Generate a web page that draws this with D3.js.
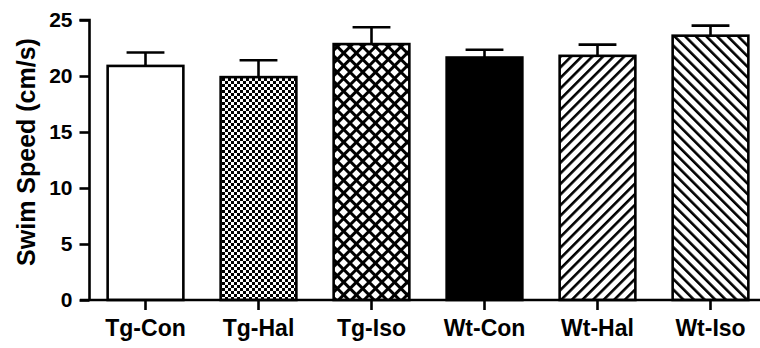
<!DOCTYPE html>
<html>
<head>
<meta charset="utf-8">
<script src="https://cdn.jsdelivr.net/npm/d3@7"></script>
<style>
  body { margin: 0; background: #fff; }
  svg text { font-family: "Liberation Sans", Arial, sans-serif; font-weight: bold; fill: #000; }
</style>
</head>
<body>
<div id="chart"></div>
<script>
// data
var groups = ["Tg-Con", "Tg-Hal", "Tg-Iso", "Wt-Con", "Wt-Hal", "Wt-Iso"];
var means = [20.9, 19.9, 22.85, 21.65, 21.8, 23.6];
var errs = [1.2, 1.5, 1.5, 0.7, 1.0, 0.9];
var fills = ["white", "url(#checker)", "url(#cross)", "black", "url(#fwd)", "url(#back)"];
var yTicks = [0, 5, 10, 15, 20, 25];

var width = 760, height = 348;

var svg = d3.select("#chart").append("svg")
    .attr("width", width)
    .attr("height", height);

var defs = svg.append("defs");

// checkerboard
var chk = defs.append("pattern")
    .attr("id", "checker")
    .attr("patternUnits", "userSpaceOnUse")
    .attr("width", 6).attr("height", 6);
chk.append("rect").attr("width", 6).attr("height", 6).attr("fill", "white");
chk.append("rect").attr("width", 3).attr("height", 3).attr("fill", "black");
chk.append("rect").attr("x", 3).attr("y", 3).attr("width", 3).attr("height", 3).attr("fill", "black");

// diagonal crosshatch
var cr = defs.append("pattern")
    .attr("id", "cross")
    .attr("patternUnits", "userSpaceOnUse")
    .attr("width", 9).attr("height", 9)
    .attr("patternTransform", "rotate(45)");
cr.append("rect").attr("width", 9).attr("height", 9).attr("fill", "white");
cr.append("rect").attr("width", 9).attr("height", 3).attr("fill", "black");
cr.append("rect").attr("width", 3).attr("height", 9).attr("fill", "black");

// forward diagonal lines (/)
var fw = defs.append("pattern")
    .attr("id", "fwd")
    .attr("patternUnits", "userSpaceOnUse")
    .attr("width", 7.5).attr("height", 7.5)
    .attr("patternTransform", "rotate(45)");
fw.append("rect").attr("width", 7.5).attr("height", 7.5).attr("fill", "white");
fw.append("rect").attr("width", 2.6).attr("height", 7.5).attr("fill", "black");

// back diagonal lines (\)
var bk = defs.append("pattern")
    .attr("id", "back")
    .attr("patternUnits", "userSpaceOnUse")
    .attr("width", 7.5).attr("height", 7.5)
    .attr("patternTransform", "rotate(-45)");
bk.append("rect").attr("width", 7.5).attr("height", 7.5).attr("fill", "white");
bk.append("rect").attr("width", 2.6).attr("height", 7.5).attr("fill", "black");

var x = d3.scaleBand()
    .domain(groups)
    .range([89, 767])
    .paddingInner(0.33)
    .paddingOuter(0.165);

var y = d3.scaleLinear()
    .domain([0, 25])
    .range([300, 20]);

// error bars (up only), drawn under the bars
var eb = svg.append("g").attr("stroke", "black").attr("stroke-width", 2.6);
groups.forEach(function(g, i) {
    var cx = x(g) + x.bandwidth() / 2;
    eb.append("line")
        .attr("x1", cx).attr("x2", cx)
        .attr("y1", y(means[i])).attr("y2", y(means[i] + errs[i]));
    eb.append("line")
        .attr("x1", cx - x.bandwidth() / 4).attr("x2", cx + x.bandwidth() / 4)
        .attr("y1", y(means[i] + errs[i])).attr("y2", y(means[i] + errs[i]));
});

svg.append("g").selectAll("rect")
    .data(groups)
    .enter().append("rect")
        .attr("x", function(d) { return x(d); })
        .attr("y", function(d, i) { return y(means[i]); })
        .attr("width", x.bandwidth())
        .attr("height", function(d, i) { return y(0) - y(means[i]); })
        .attr("fill", function(d, i) { return fills[i]; })
        .attr("stroke", "black")
        .attr("stroke-width", 2.6);

// y axis
var yAxis = svg.append("g")
    .attr("transform", "translate(89.5,0)")
    .call(d3.axisLeft(y).tickValues(yTicks).tickSize(10).tickPadding(7));
yAxis.select(".domain").attr("stroke-width", 2.6).attr("d", "M-10," + y(25) + "H0V" + y(0));
yAxis.selectAll(".tick line").attr("stroke-width", 2.6);
yAxis.selectAll(".tick text").style("font-size", "21px");

// x axis
var xAxis = svg.append("g")
    .attr("transform", "translate(0,300)")
    .call(d3.axisBottom(x).tickSize(10).tickPadding(10));
xAxis.select(".domain").attr("stroke-width", 2.6).attr("d", "M80,0H760");
xAxis.selectAll(".tick line").attr("stroke-width", 2.6);
xAxis.selectAll(".tick text").style("font-size", "23px");

svg.selectAll(".domain, .tick line").attr("stroke", "black");

svg.append("text")
    .attr("transform", "translate(35,152) rotate(-90)")
    .attr("text-anchor", "middle")
    .style("font-size", "25px")
    .text("Swim Speed (cm/s)");
</script>
</body>
</html>
